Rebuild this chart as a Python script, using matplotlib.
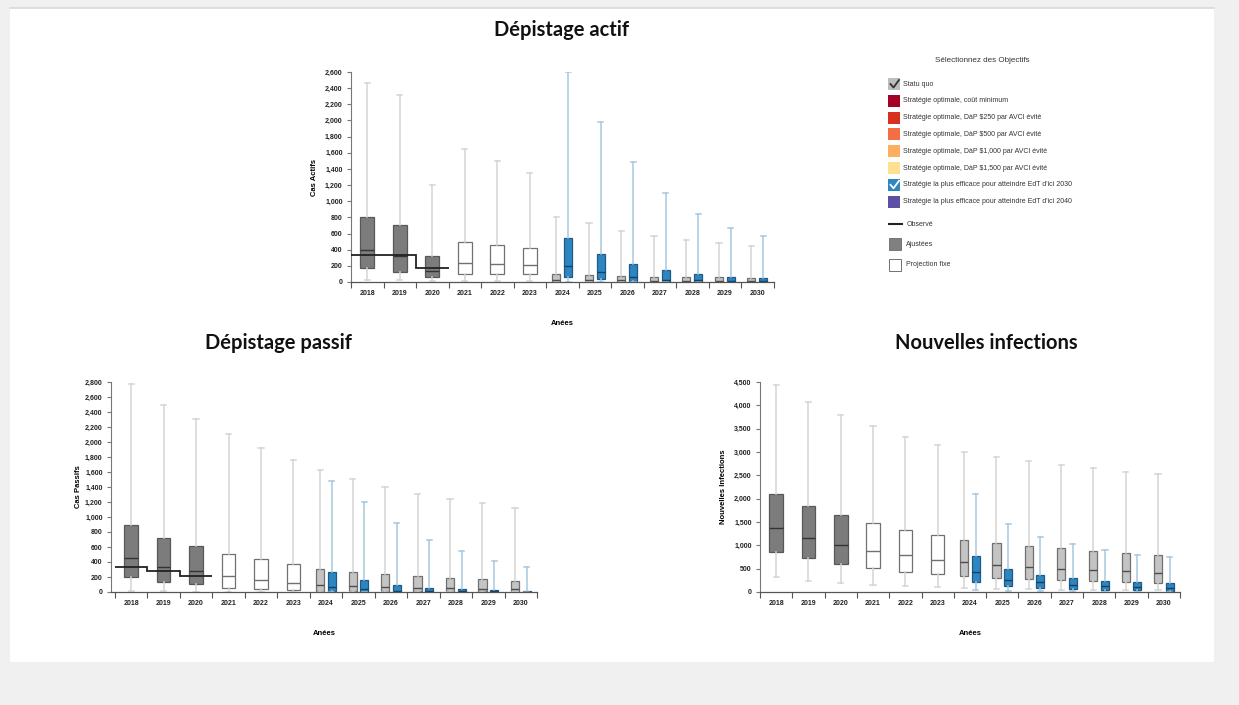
import numpy as np
import matplotlib
matplotlib.use('Agg')
import matplotlib.pyplot as plt
from matplotlib.patches import Rectangle
from matplotlib.lines import Line2D
from matplotlib.ticker import MultipleLocator, FuncFormatter

plt.rcParams['font.family'] = ['Liberation Sans', 'DejaVu Sans']

years = [str(y) for y in range(2018, 2031)]

# Dépistage actif - statu quo (2018-2020 ajustées, 2021-2023 projection fixe, 2024+ statu quo)
actif_hi = [2470, 2310, 1200, 1650, 1500, 1355, 800, 725, 635, 570, 520, 478, 440]
actif_q3 = [810, 700, 318, 490, 453, 420, 105, 90, 78, 68, 62, 58, 52]
actif_med = [391, 321, 136, 235, 225, 215, 30, 25, 20, 15, 12, 10, 8]
actif_q1 = [172, 128, 58, 99, 95, 95, 4, 3, 2, 2, 1, 1, 1]
actif_lo = [25, 20, 10, 10, 8, 8, 0, 0, 0, 0, 0, 0, 0]
# Dépistage actif - stratégie EdT 2030 (2024-2030)
actif_edt_hi = [2600, 1986, 1490, 1100, 840, 672, 565]
actif_edt_q3 = [540, 350, 227, 148, 99, 65, 50]
actif_edt_med = [202, 120, 62, 30, 20, 15, 10]
actif_edt_q1 = [62, 35, 10, 5, 3, 2, 1]
actif_edt_lo = [0, 0, 0, 0, 0, 0, 0]
actif_obs = [337, 330, 171]

# Dépistage passif
passif_hi = [2778, 2488, 2305, 2105, 1917, 1757, 1623, 1503, 1405, 1306, 1240, 1182, 1115]
passif_q3 = [896, 722, 620, 508, 437, 370, 312, 272, 241, 210, 192, 169, 152]
passif_med = [459, 330, 276, 214, 160, 125, 98, 80, 65, 55, 50, 45, 40]
passif_q1 = [200, 134, 103, 58, 40, 30, 20, 15, 12, 10, 8, 7, 6]
passif_lo = [20, 10, 5, 5, 5, 5, 0, 0, 0, 0, 0, 0, 0]
passif_edt_hi = [1480, 1195, 919, 700, 544, 419, 330]
passif_edt_q3 = [263, 165, 98, 58, 40, 25, 20]
passif_edt_med = [67, 35, 20, 15, 10, 8, 5]
passif_edt_q1 = [10, 5, 3, 2, 1, 1, 1]
passif_edt_lo = [0, 0, 0, 0, 0, 0, 0]
passif_obs = [332, 282, 218]

# Nouvelles infections
infect_hi = [4443, 4079, 3800, 3557, 3321, 3143, 3007, 2893, 2800, 2729, 2657, 2579, 2529]
infect_q3 = [2100, 1843, 1650, 1479, 1329, 1221, 1107, 1050, 986, 943, 886, 843, 800]
infect_med = [1364, 1150, 1007, 886, 793, 693, 643, 586, 543, 500, 471, 443, 400]
infect_q1 = [864, 721, 607, 507, 436, 379, 336, 307, 279, 257, 229, 214, 193]
infect_lo = [321, 236, 186, 150, 129, 107, 80, 70, 60, 50, 45, 40, 35]
infect_edt_hi = [2100, 1457, 1179, 1021, 900, 800, 743]
infect_edt_q3 = [764, 493, 371, 300, 243, 214, 193]
infect_edt_med = [436, 257, 207, 150, 121, 100, 80]
infect_edt_q1 = [214, 136, 93, 70, 50, 40, 25]
infect_edt_lo = [50, 30, 20, 15, 10, 8, 5]

legend_labels = ['Statu quo', 'Stratégie optimale, coût minimum',
                 'Stratégie optimale, DàP $250 par AVCI évité',
                 'Stratégie optimale, DàP $500 par AVCI évité',
                 'Stratégie optimale, DàP $1,000 par AVCI évité',
                 'Stratégie optimale, DàP $1,500 par AVCI évité',
                 'Stratégie la plus efficace pour atteindre EdT d\'ici 2030',
                 'Stratégie la plus efficace pour atteindre EdT d\'ici 2040']
legend_colors = ['#bdbdbd', '#a50026', '#d7301f', '#f46d43', '#fdae61',
                 '#fee090', '#2e86c1', '#5e4fa2']
legend_checked = [True, False, False, False, False, False, True, False]

W, H = 1239, 705
fig = plt.figure(figsize=(W / 100, H / 100), dpi=100)
fig.patch.set_facecolor('#f0f0f0')


def fx(x):
    return x / W


def fy(y):
    return 1 - y / H


fig.add_artist(Rectangle((fx(10), fy(662)), fx(1214) - fx(10), fy(8) - fy(662),
                         transform=fig.transFigure, facecolor='white', edgecolor='none', zorder=0))
fig.add_artist(Line2D([fx(10), fx(1214)], [fy(7.5), fy(7.5)], transform=fig.transFigure,
                      color='#d9d9d9', lw=1.2))


def draw_panel(ax, hi, q3, med, q1, lo, ehi, eq3, emed, eq1, elo, ymax, ystep, ylabel,
               obs=None, x0=-0.5, ypad=5):
    stats = [dict(med=med[i], q1=q1[i], q3=q3[i], whislo=lo[i], whishi=hi[i]) for i in range(len(years))]
    groups = [(range(0, 3), '#7c7c7c', '#585858', '#333333', 0.0, 0.42),
              (range(3, 6), 'white', '#707070', '#707070', 0.0, 0.42),
              (range(6, 13), '#c4c4c4', '#707070', '#4d4d4d', -0.18, 0.25)]
    for idx, fc, ec, mc, off, w in groups:
        ax.bxp([stats[i] for i in idx], positions=[i + off for i in idx], widths=w,
               capwidths=0.16, patch_artist=True, showfliers=False, manage_ticks=False,
               boxprops=dict(facecolor=fc, edgecolor=ec, linewidth=0.9),
               medianprops=dict(color=mc, linewidth=1.0),
               whiskerprops=dict(color='#d4d4d4', linewidth=1.1),
               capprops=dict(color='#d4d4d4', linewidth=1.1))
    estats = [dict(med=emed[i], q1=eq1[i], q3=eq3[i], whislo=elo[i], whishi=ehi[i]) for i in range(len(ehi))]
    ax.bxp(estats, positions=[i + 6.18 for i in range(len(ehi))], widths=0.25,
           capwidths=0.16, patch_artist=True, showfliers=False, manage_ticks=False,
           boxprops=dict(facecolor='#2e86c1', edgecolor='#1d5a85', linewidth=0.9),
           medianprops=dict(color='#17405f', linewidth=1.0),
           whiskerprops=dict(color='#a7c7df', linewidth=1.1),
           capprops=dict(color='#a7c7df', linewidth=1.1))
    if obs is not None:
        ax.stairs(obs, np.arange(-0.5, len(obs), 1), baseline=None, color='#222222', lw=1.3, zorder=5)

    ax.set_xlim(x0, 12.5)
    ax.set_ylim(0, ymax)
    ax.set_xticks(range(len(years)))
    ax.set_xticklabels(years, fontsize=5, fontweight='bold', color='#222222')
    ax.set_xticks(np.arange(-0.5, 13, 1), minor=True)
    ax.tick_params(axis='x', which='major', length=0, pad=6)
    ax.tick_params(axis='x', which='minor', length=4, width=0.8, color='#555555')
    ax.yaxis.set_major_locator(MultipleLocator(ystep))
    ax.yaxis.set_major_formatter(FuncFormatter(lambda v, p: f'{int(v):,}'))
    ax.tick_params(axis='y', length=3, width=0.8, color='#777777', labelsize=5, pad=3)
    for t in ax.get_yticklabels():
        t.set_fontweight('bold')
        t.set_color('#222222')
    for s in ['top', 'right']:
        ax.spines[s].set_visible(False)
    ax.spines['left'].set_color('#777777')
    ax.spines['left'].set_linewidth(0.8)
    ax.spines['bottom'].set_color('#555555')
    ax.spines['bottom'].set_linewidth(0.9)
    ax.set_ylabel(ylabel, fontsize=5.5, fontweight='bold', labelpad=ypad)
    ax.set_xlabel('Anées', fontsize=5.5, fontweight='bold', labelpad=16)
    ax.patch.set_alpha(0)


ax1 = fig.add_axes([fx(351), fy(282), 422.5 / W, 210 / H])
draw_panel(ax1, actif_hi, actif_q3, actif_med, actif_q1, actif_lo,
           actif_edt_hi, actif_edt_q3, actif_edt_med, actif_edt_q1, actif_edt_lo,
           2600, 200, 'Cas Actifs', actif_obs)

ax2 = fig.add_axes([fx(111), fy(592), 426 / W, 210 / H])
draw_panel(ax2, passif_hi, passif_q3, passif_med, passif_q1, passif_lo,
           passif_edt_hi, passif_edt_q3, passif_edt_med, passif_edt_q1, passif_edt_lo,
           2800, 200, 'Cas Passifs', passif_obs, x0=-0.62, ypad=2)

ax3 = fig.add_axes([fx(760), fy(592), 420 / W, 210 / H])
draw_panel(ax3, infect_hi, infect_q3, infect_med, infect_q1, infect_lo,
           infect_edt_hi, infect_edt_q3, infect_edt_med, infect_edt_q1, infect_edt_lo,
           4500, 500, 'Nouvelles Infections')

title_kw = dict(fontsize=14.5, fontweight='bold', family=['Lato', 'DejaVu Sans'],
                ha='center', va='center', color='#111111')
fig.text(fx(562), fy(30), 'Dépistage actif', **title_kw)
fig.text(fx(278), fy(343), 'Dépistage passif', **title_kw)
fig.text(fx(986), fy(343), 'Nouvelles infections', **title_kw)

# legend panel
fig.text(fx(982), fy(61), 'Sélectionnez des Objectifs', fontsize=5.8, ha='center', va='center', color='#333333')
for i, (lab, col, chk) in enumerate(zip(legend_labels, legend_colors, legend_checked)):
    yc = 84 + 16.8 * i
    fig.add_artist(Rectangle((fx(888), fy(yc + 6)), 12 / W, 12 / H, transform=fig.transFigure,
                             facecolor=col, edgecolor='none'))
    if chk:
        mark = '#333333' if i == 0 else 'white'
        fig.add_artist(Line2D([fx(890.5), fx(893.5), fx(899)], [fy(yc), fy(yc + 3.5), fy(yc - 4)],
                              transform=fig.transFigure, color=mark, lw=1.3))
    fig.text(fx(903), fy(yc), lab, fontsize=5, ha='left', va='center', color='#333333')

fig.add_artist(Line2D([fx(889), fx(902)], [fy(224), fy(224)], transform=fig.transFigure, color='#222222', lw=1.5))
fig.text(fx(907), fy(224), 'Observé', fontsize=5, ha='left', va='center', color='#333333')
fig.add_artist(Rectangle((fx(889), fy(250)), 12 / W, 12 / H, transform=fig.transFigure,
                         facecolor='#808080', edgecolor='#6a6a6a', lw=0.6))
fig.text(fx(906), fy(244), 'Ajustées', fontsize=5, ha='left', va='center', color='#333333')
fig.add_artist(Rectangle((fx(889), fy(271)), 12 / W, 12 / H, transform=fig.transFigure,
                         facecolor='white', edgecolor='#707070', lw=0.7))
fig.text(fx(906), fy(265), 'Projection fixe', fontsize=5, ha='left', va='center', color='#333333')

fig.savefig('out.png', dpi=100, facecolor=fig.get_facecolor())
